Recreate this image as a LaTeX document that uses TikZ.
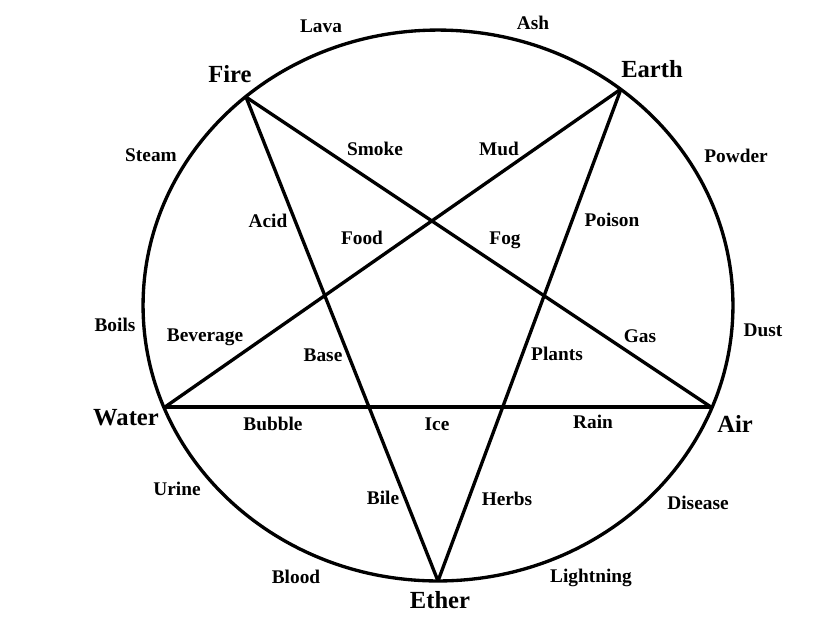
\documentclass[tikz,border=0pt]{standalone}
\usepackage{fontspec}
\setmainfont{Liberation Serif}
\usetikzlibrary{calc,positioning}

\begin{document}
\begin{tikzpicture}[
            x=0.02cm, y=-0.02cm,
            every node/.append style={black,font=\bfseries\fontsize{11}{13}\selectfont},
            every path/.append style={black,line width=1.9pt},
            element/.style={font=\bfseries\fontsize{14}{16}\selectfont}
        ]
            \useasboundingbox (0,0) rectangle (831,627);

            \coordinate (centre) at (438,305.5);
            \coordinate (fire)   at (246,97);
            \coordinate (earth)  at (621,89);
            \coordinate (water)  at (165,407);
            \coordinate (air)    at (711,407);
            \coordinate (ether)  at (438,581);

            \draw (centre) ellipse [x radius=5.9cm, y radius=5.51cm];

            \draw (fire)  -- (air);
            \draw (air)   -- (water);
            \draw (water) -- (earth);
            \draw (earth) -- (ether);
            \draw (ether) -- (fire);

            % the five elements
            \node[element] (firelbl)  at (230,74)  {Fire};
            \node[element] (earthlbl) at (652,69)  {Earth};
            \node[element] (waterlbl) at (126,418) {Water};
            \node[element] (airlbl)   at (735,424) {Air};
            \node[element] (etherlbl) at (440,600) {Ether};

            % outside the circle
            \node (lava)      at (321,26)  {Lava};
            \node (ash)       at (533,23)  {Ash};
            \node (steam)     at (151,155) {Steam};
            \node (powder)    at (736,156) {Powder};
            \node (boils)     at (115,325) {Boils};
            \node (dust)      at (763,330) {Dust};
            \node (urine)     at (177,489) {Urine};
            \node (disease)   at (698,503) {Disease};
            \node (blood)     at (296,577) {Blood};
            \node (lightning) at (591,578) {Lightning};

            % inside the circle
            \node (smoke)    at (375,149) {Smoke};
            \node (mud)      at (499,149) {Mud};
            \node (acid)     at (268,221) {Acid};
            \node (food)     at (362,238) {Food};
            \node (fog)      at (505,240) {Fog};
            \node (poison)   at (612,220) {Poison};
            \node (beverage) at (205,337) {Beverage};
            \node (base)     at (323,355) {Base};
            \node (plants)   at (557,354) {Plants};
            \node (gas)      at (640,336) {Gas};
            \node (bubble)   at (273,424) {Bubble};
            \node (ice)      at (437,424) {Ice};
            \node (rain)     at (593,422) {Rain};
            \node (bile)     at (383,498) {Bile};
            \node (herbs)    at (507,499) {Herbs};
        \end{tikzpicture}
\end{document}
